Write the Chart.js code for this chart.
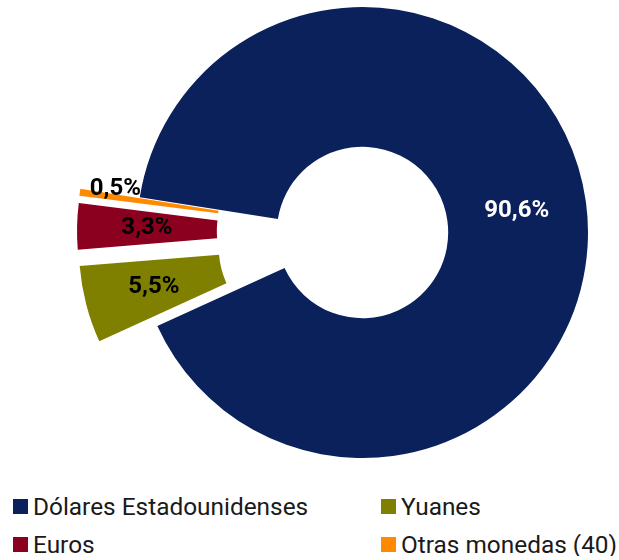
<!DOCTYPE html>
<html>
<head>
<meta charset="utf-8">
<script src="https://cdn.jsdelivr.net/npm/chart.js@4"></script>
<style>
  body { margin: 0; background: #fff; }
  .wrap { position: relative; width: 619px; height: 465px; }
  .legend {
    display: grid;
    grid-template-columns: 368px 251px;
    row-gap: 14px;
    padding-left: 13px;
    margin-top: 29px;
    font-family: Roboto, sans-serif;
    font-size: 24.4px;
    color: #1a1a1a;
  }
  .legend div { display: flex; align-items: center; height: 24px; white-space: nowrap; }
  .legend span.box { width: 15px; height: 15px; margin-right: 5px; display: inline-block; }
</style>
</head>
<body>
<div class="wrap"><canvas id="myChart"></canvas></div>
<div class="legend" id="legend"></div>
<script>
const categories = ["Dólares Estadounidenses", "Yuanes", "Euros", "Otras monedas (40)"];
const shares = [90.6, 5.5, 3.3, 0.5];
const valueLabels = ["90,6%", "5,5%", "3,3%", "0,5%"];
const colors = ["#0A215C", "#7F7F00", "#8A001E", "#FF8A00"];
const explode = [0, 60, 60, 60];

function midAngle(arc) {
  const p = arc.getProps(['startAngle', 'endAngle'], true);
  return (p.startAngle + p.endAngle) / 2;
}

// chart.js' own offset shrinks thin slices to nothing, so pull the slices out by hand
const explodeSlices = {
  id: 'explodeSlices',
  beforeDatasetDraw(chart, args) {
    const ctx = chart.ctx;
    args.meta.data.forEach((arc, i) => {
      const mid = midAngle(arc);
      ctx.save();
      ctx.translate(Math.cos(mid) * explode[i], Math.sin(mid) * explode[i]);
      arc.draw(ctx);
      ctx.restore();
    });
    return false;
  }
};

// draws the percentage on each slice (no datalabels plugin available offline)
const sliceLabels = {
  id: 'sliceLabels',
  afterDatasetsDraw(chart) {
    const ctx = chart.ctx;
    const arcs = chart.getDatasetMeta(0).data;
    ctx.save();
    ctx.font = "bold 24px Roboto";
    ctx.textAlign = "center";
    ctx.textBaseline = "middle";
    arcs.forEach((arc, i) => {
      const { x, y, startAngle, endAngle, innerRadius, outerRadius } = arc.getProps(['x', 'y', 'startAngle', 'endAngle', 'innerRadius', 'outerRadius'], true);
      const mid = (startAngle + endAngle) / 2;
      let r = (innerRadius + outerRadius) / 2 + explode[i];
      let dy = 0;
      if (endAngle - startAngle < 0.05) { r += 34; dy = -8; } // tiny slice: put label just outside
      ctx.fillStyle = i === 0 ? "#fff" : "#000";
      ctx.fillText(valueLabels[i], x + Math.cos(mid) * r, y + Math.sin(mid) * r + dy);
    });
    ctx.restore();
  }
};

const ctx = document.getElementById("myChart").getContext('2d');
new Chart(ctx, {
  type: "doughnut",
  data: {
    labels: categories,
    datasets: [{
      data: shares,
      backgroundColor: colors,
      borderWidth: 0,
      clip: false,
    }]
  },
  options: {
    responsive: true,
    maintainAspectRatio: false,
    animation: false,
    rotation: -81,
    cutout: '38%',
    radius: 225.5,
    layout: { padding: { left: 106 } },
    plugins: {
      legend: { display: false },
      tooltip: { enabled: false },
    }
  },
  plugins: [explodeSlices, sliceLabels]
});

const legend = document.getElementById("legend");
// two columns: Dólares, Yuanes / Euros, Otras
categories.forEach((name, i) => {
  const item = document.createElement("div");
  item.innerHTML = '<span class="box" style="background:' + colors[i] + '"></span>' + name;
  legend.appendChild(item);
});
</script>
</body>
</html>
